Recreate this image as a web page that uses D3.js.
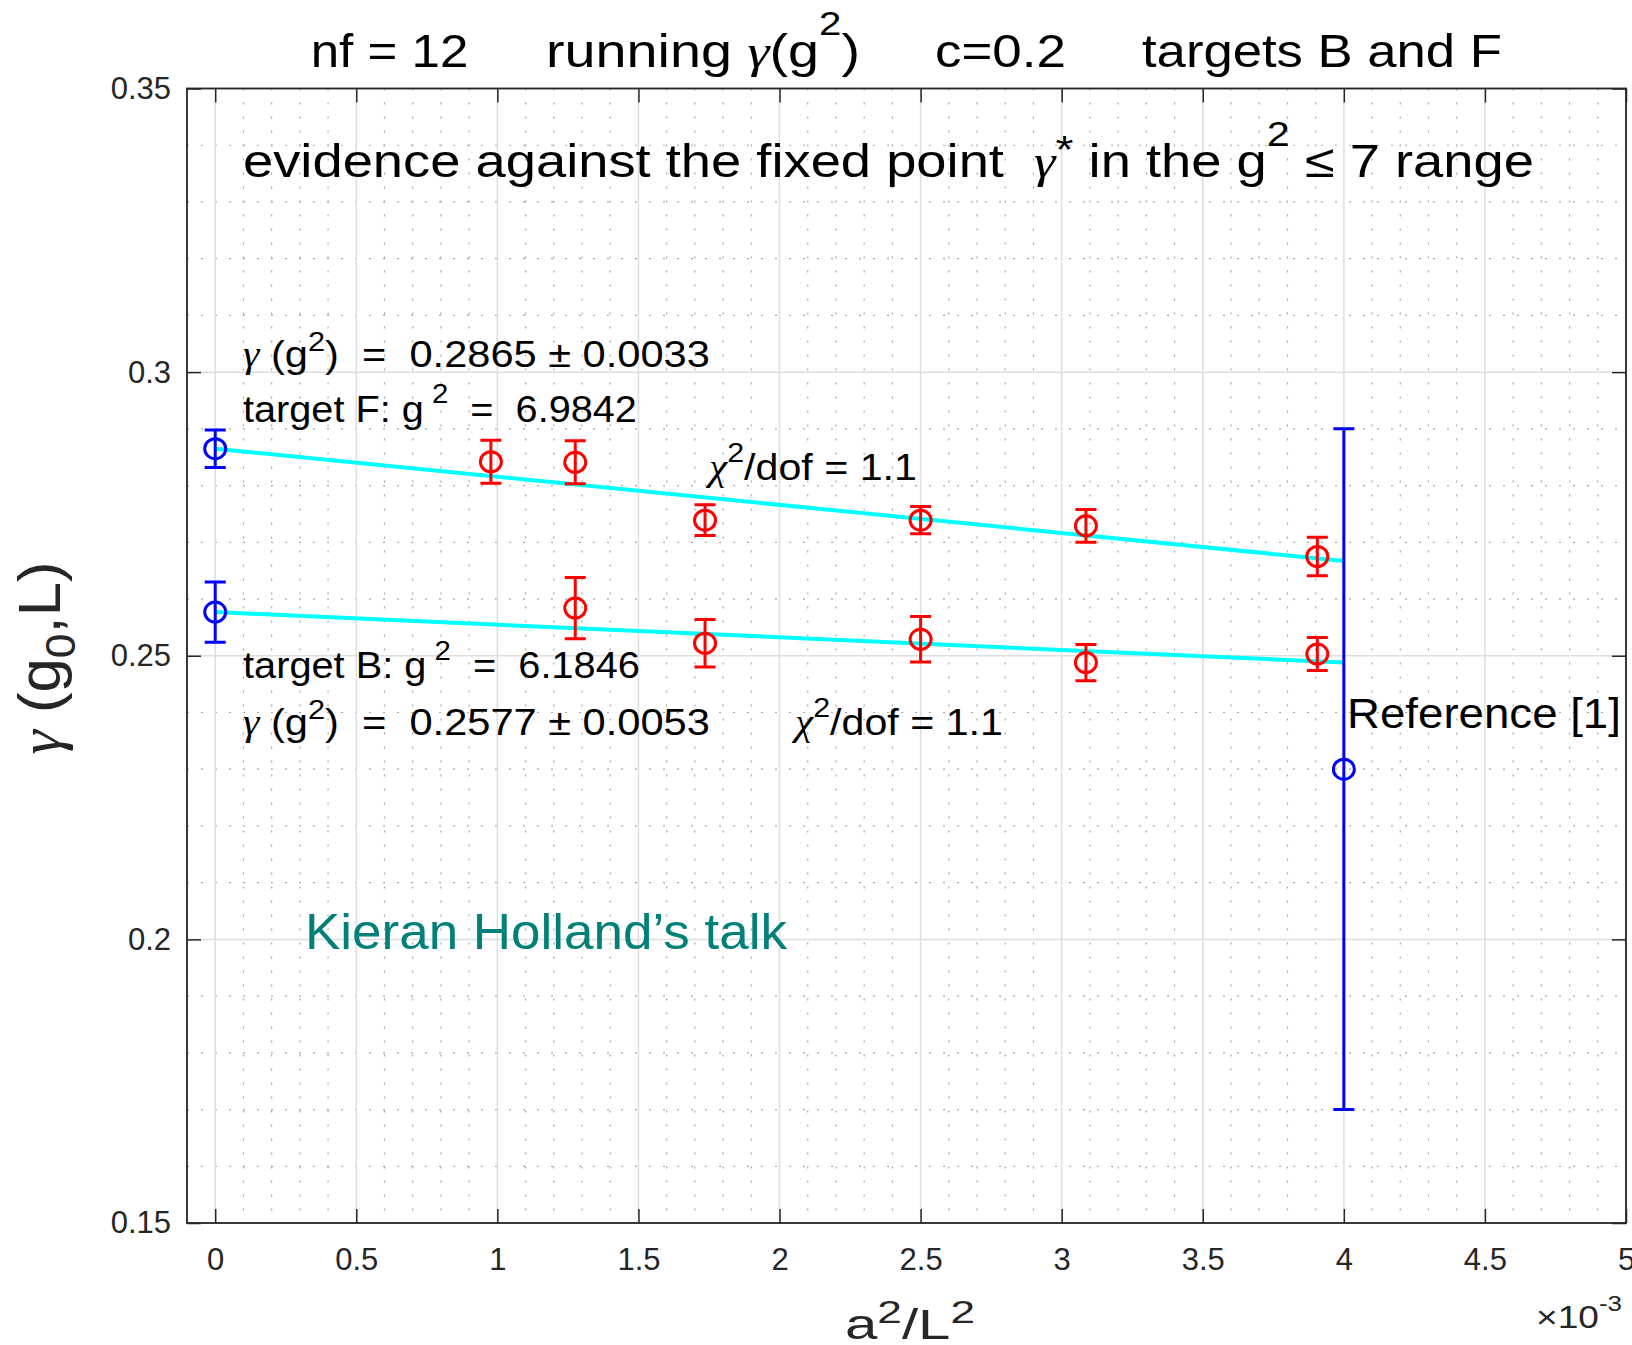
<!DOCTYPE html>
<html>
<head>
<meta charset="utf-8">
<script src="https://cdn.jsdelivr.net/npm/d3@7"></script>
<style>
  html, body { margin: 0; padding: 0; background: #fff; }
  svg text { white-space: pre; }
</style>
</head>
<body>
<svg id="chart" width="1632" height="1345"></svg>
<script>
// ---- data (a^2/L^2 in units of 1e-3) ----
const xTickVals   = [0, 0.5, 1, 1.5, 2, 2.5, 3, 3.5, 4, 4.5, 5];
const xTickLabels = ["0", "0.5", "1", "1.5", "2", "2.5", "3", "3.5", "4", "4.5", "5"];
const yTickVals   = [0.15, 0.2, 0.25, 0.3, 0.35];
const yTickLabels = ["0.15", "0.2", "0.25", "0.3", "0.35"];

// target F (g^2 = 6.9842), lattice sizes L/a = 32, 28, 24, 20, 18, 16
const a2L2F  = [0.977, 1.276, 1.736, 2.5, 3.086, 3.906];
const gammaF = [0.2842, 0.2841, 0.2739, 0.2739, 0.2729, 0.2675];
const errF   = [0.0038, 0.0038, 0.0027, 0.0024, 0.0029, 0.0034];

// target B (g^2 = 6.1846), lattice sizes L/a = 28, 24, 20, 18, 16
const a2L2B  = [1.276, 1.736, 2.5, 3.086, 3.906];
const gammaB = [0.2584, 0.2522, 0.2529, 0.2488, 0.2503];
const errB   = [0.0054, 0.0042, 0.0040, 0.0032, 0.0029];

// continuum extrapolations at a^2/L^2 = 0
const contX     = [0, 0];
const contGamma = [0.2865, 0.2577];
const contErr   = [0.0033, 0.0053];

// linear fits: [intercept, slope per 1e-3], drawn over [0, 4]
const fitF     = [0.2865, -0.00495];
const fitB     = [0.2577, -0.002225];
const fitRange = [0, 4];

// Reference [1]
const refX     = [4];
const refGamma = [0.230];
const refErr   = [0.060];

// ---- layout ----
const SANS  = '"Liberation Sans", Arial, Helvetica, sans-serif';
const SERIF = '"Liberation Serif", "DejaVu Serif", serif';
const AX = "#262626";
const plot = { left: 187, right: 1626, top: 88.5, bottom: 1223 };

const svg = d3.select("#chart");
svg.append("rect").attr("width", 1632).attr("height", 1345).attr("fill", "#fff");

const x = d3.scaleLinear().domain([-0.1, 5]).range([plot.left, plot.right]);
const y = d3.scaleLinear().domain([0.15, 0.35]).range([plot.bottom, plot.top]);

// ---- grid ----
const grid = svg.append("g");
const xMinor = d3.range(-1, 51).filter(i => i % 5 !== 0).map(i => i / 10);
const yMinor = d3.range(15, 36).filter(i => i % 5 !== 0).map(i => i / 100);
const minorStyle = sel => sel.attr("stroke", "#a6a6a6").attr("stroke-width", 1.2)
  .attr("stroke-dasharray", "2,12");
grid.selectAll(".vx").data(xMinor).join("line")
  .attr("x1", d => x(d)).attr("x2", d => x(d)).attr("y1", plot.top).attr("y2", plot.bottom)
  .call(minorStyle);
grid.selectAll(".hy").data(yMinor).join("line")
  .attr("y1", d => y(d)).attr("y2", d => y(d)).attr("x1", plot.left).attr("x2", plot.right)
  .call(minorStyle);
grid.selectAll(".mx").data(xTickVals).join("line")
  .attr("x1", d => x(d)).attr("x2", d => x(d)).attr("y1", plot.top).attr("y2", plot.bottom)
  .attr("stroke", "#dedede").attr("stroke-width", 1.5);
grid.selectAll(".my").data(yTickVals).join("line")
  .attr("y1", d => y(d)).attr("y2", d => y(d)).attr("x1", plot.left).attr("x2", plot.right)
  .attr("stroke", "#dedede").attr("stroke-width", 1.5);

// ---- axes (ticks point inward on all four sides) ----
function styleAxis(g) {
  g.select(".domain").remove();
  g.selectAll(".tick line").attr("stroke", AX).attr("stroke-width", 1.5);
  g.selectAll(".tick text").attr("fill", AX).attr("font-family", SANS).attr("font-size", 31);
}
svg.append("g").attr("transform", `translate(0,${plot.bottom})`)
  .call(d3.axisBottom(x).tickValues(xTickVals).tickFormat((d, i) => xTickLabels[i])
    .tickSizeInner(-14).tickSizeOuter(0).tickPadding(25))
  .call(styleAxis);
svg.append("g").attr("transform", `translate(0,${plot.top})`)
  .call(d3.axisTop(x).tickValues(xTickVals).tickFormat("").tickSizeInner(-14).tickSizeOuter(0))
  .call(styleAxis);
svg.append("g").attr("transform", `translate(${plot.left},0)`)
  .call(d3.axisLeft(y).tickValues(yTickVals).tickFormat((d, i) => yTickLabels[i])
    .tickSizeInner(-14).tickSizeOuter(0).tickPadding(16))
  .call(styleAxis);
svg.append("g").attr("transform", `translate(${plot.right},0)`)
  .call(d3.axisRight(y).tickValues(yTickVals).tickFormat("").tickSizeInner(-14).tickSizeOuter(0))
  .call(styleAxis);
svg.append("rect")
  .attr("x", plot.left).attr("y", plot.top)
  .attr("width", plot.right - plot.left).attr("height", plot.bottom - plot.top)
  .attr("fill", "none").attr("stroke", AX).attr("stroke-width", 1.8);

// ---- fit lines ----
const line = d3.line().x(d => x(d[0])).y(d => y(d[1]));
[fitF, fitB].forEach(([b, m]) => {
  svg.append("path")
    .attr("d", line(fitRange.map(t => [t, b + m * t])))
    .attr("fill", "none").attr("stroke", "#00ffff").attr("stroke-width", 4);
});

// ---- error-bar markers ----
function errorPoints(xs, vs, es, color) {
  const g = svg.append("g").attr("stroke", color).attr("fill", "none").attr("stroke-width", 3);
  const pts = xs.map((d, i) => ({ x: d, v: vs[i], e: es[i] }));
  const cap = 10.5;
  g.selectAll("path.bar").data(pts).join("path")
    .attr("d", d => {
      const cx = x(d.x), y0 = y(d.v - d.e), y1 = y(d.v + d.e);
      return `M${cx},${y0}V${y1}M${cx - cap},${y0}H${cx + cap}M${cx - cap},${y1}H${cx + cap}`;
    });
  g.selectAll("ellipse").data(pts).join("ellipse")
    .attr("cx", d => x(d.x)).attr("cy", d => y(d.v)).attr("rx", 10.5).attr("ry", 10);
}
errorPoints(a2L2F, gammaF, errF, "#ff0000");
errorPoints(a2L2B, gammaB, errB, "#ff0000");
errorPoints(contX, contGamma, contErr, "#0000ff");
errorPoints(refX, refGamma, refErr, "#0000ff");

// ---- rich text helper: superscripts / subscripts / greek, fitted to a given width ----
function richText(parent, o) {
  const g = parent.append("g")
    .attr("transform", `translate(${o.x},${o.y})${o.rotate ? ` rotate(${o.rotate})` : ""}`);
  const t = g.append("text")
    .attr("font-family", SANS).attr("font-size", o.size).attr("fill", o.color || "#000")
    .attr("text-anchor", o.anchor || "start");
  let cur = 0;
  o.parts.forEach(p => {
    const part = typeof p === "string" ? { t: p } : p;
    const off = part.sup ? (part.rise ?? 0.45) * o.size
              : part.sub ? -(part.drop ?? 0.25) * o.size : 0;
    const ts = t.append("tspan").text(part.t);
    if (off !== cur) ts.attr("dy", cur - off);
    cur = off;
    if (part.sup || part.sub) ts.attr("font-size", (part.scale ?? 0.7) * o.size);
    if (part.greek) ts.attr("font-family", SERIF).attr("font-style", "italic");
  });
  if (o.w) {
    const w0 = t.node().getComputedTextLength();
    if (w0 > 0) t.attr("transform", `scale(${o.w / w0},1)`);
  }
  return g;
}

const txt = svg.append("g");

// title
richText(txt, { x: 310.7, y: 66.7, size: 46, w: 157.6, parts: ["nf = 12"] });
richText(txt, { x: 546, y: 66.7, size: 46, w: 314, parts: [
  "running ", { t: "γ", greek: true }, "(g", { t: "2", sup: true, rise: 0.68, scale: 0.72 }, ")"] });
richText(txt, { x: 935, y: 66.7, size: 46, w: 131, parts: ["c=0.2"] });
richText(txt, { x: 1142, y: 66.7, size: 46, w: 360, parts: ["targets B and F"] });

// headline inside the axes
richText(txt, { x: 243, y: 177, size: 46, w: 1291, parts: [
  "evidence against the fixed point  ", { t: "γ", greek: true },
  { t: "*", sup: true, rise: 0.3, scale: 0.85 }, " in the g",
  { t: "2", sup: true, rise: 0.68, scale: 0.76 }, " ", "≤", " 7 range"] });

// target F annotations
richText(txt, { x: 243, y: 366.7, size: 37, w: 467, parts: [
  { t: "γ", greek: true }, " (g", { t: "2", sup: true, rise: 0.42, scale: 0.74 }, ")  =  0.2865 ± 0.0033"] });
richText(txt, { x: 243, y: 421.7, size: 37, w: 394, parts: [
  "target F: g", { t: " 2", sup: true, rise: 0.5, scale: 0.74 }, "  =  6.9842"] });
richText(txt, { x: 709, y: 480, size: 37, w: 208, parts: [
  { t: "χ", greek: true }, { t: "2", sup: true, rise: 0.5, scale: 0.74 }, "/dof = 1.1"] });

// target B annotations
richText(txt, { x: 243, y: 678, size: 37, w: 397, parts: [
  "target B: g", { t: " 2", sup: true, rise: 0.5, scale: 0.74 }, "  =  6.1846"] });
richText(txt, { x: 243, y: 735, size: 37, w: 467, parts: [
  { t: "γ", greek: true }, " (g", { t: "2", sup: true, rise: 0.42, scale: 0.74 }, ")  =  0.2577 ± 0.0053"] });
richText(txt, { x: 795, y: 735, size: 37, w: 208, parts: [
  { t: "χ", greek: true }, { t: "2", sup: true, rise: 0.5, scale: 0.74 }, "/dof = 1.1"] });

richText(txt, { x: 1347, y: 728, size: 43, w: 274, parts: ["Reference [1]"] });
richText(txt, { x: 305, y: 949, size: 50, w: 482, color: "#008078", parts: ["Kieran Holland’s talk"] });

// axis labels
richText(txt, { x: 845, y: 1339, size: 42, w: 130, color: AX, parts: [
  "a", { t: "2", sup: true, rise: 0.38, scale: 0.76 }, "/L", { t: "2", sup: true, rise: 0.38, scale: 0.76 }] });
richText(txt, { x: 1536, y: 1328, size: 31, w: 86, color: AX, parts: [
  "×10", { t: "-3", sup: true, rise: 0.55, scale: 0.7 }] });
richText(txt, { x: 60, y: 658, size: 60, w: 193, rotate: -90, anchor: "middle", color: AX, parts: [
  { t: "γ", greek: true }, " (g", { t: "0", sub: true, drop: 0.25, scale: 0.72 }, ",L)"] });
</script>
</body>
</html>
